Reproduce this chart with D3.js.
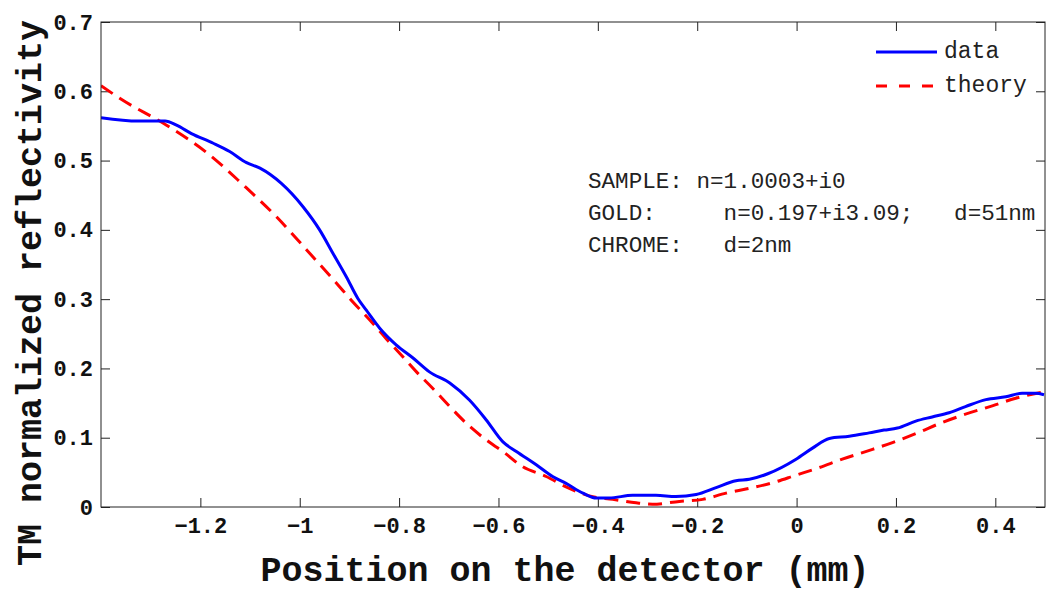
<!DOCTYPE html>
<html>
<head>
<meta charset="utf-8">
<script src="https://cdn.jsdelivr.net/npm/d3@7"></script>
<style>
  html, body { margin: 0; padding: 0; background: #fff; }
  svg { display: block; }
</style>
</head>
<body>
<svg id="chart" width="1046" height="592"></svg>
<script>
// Measured TM reflectivity across the detector (position in mm)
const dataX = [-1.400, -1.325, -1.271, -1.248, -1.218, -1.174, -1.141, -1.107, -1.080, -1.037,
  -0.993, -0.960, -0.933, -0.906, -0.883, -0.866, -0.839, -0.806, -0.772, -0.739,
  -0.698, -0.658, -0.625, -0.591, -0.564, -0.524, -0.491, -0.464, -0.430, -0.403,
  -0.377, -0.330, -0.283, -0.243, -0.202, -0.162, -0.122, -0.095, -0.058, -0.001,
  0.032, 0.066, 0.106, 0.146, 0.176, 0.203, 0.240, 0.273, 0.307, 0.340,
  0.381, 0.421, 0.454, 0.481, 0.498];
const dataY = [0.562, 0.557, 0.557, 0.551, 0.539, 0.525, 0.513, 0.497, 0.489, 0.467,
  0.433, 0.400, 0.366, 0.332, 0.301, 0.284, 0.258, 0.234, 0.215, 0.195,
  0.179, 0.154, 0.126, 0.094, 0.080, 0.061, 0.044, 0.034, 0.020, 0.013,
  0.013, 0.017, 0.017, 0.015, 0.018, 0.028, 0.038, 0.040, 0.048, 0.069,
  0.085, 0.099, 0.102, 0.107, 0.111, 0.114, 0.124, 0.130, 0.136, 0.145,
  0.155, 0.159, 0.164, 0.164, 0.162];

// Computed reflectivity for the layered sample
const theoryX = [-1.400, -1.356, -1.268, -1.181, -1.114, -1.047, -0.986, -0.926, -0.893, -0.859,
  -0.826, -0.799, -0.765, -0.732, -0.698, -0.665, -0.625, -0.591, -0.551, -0.504,
  -0.464, -0.417, -0.370, -0.323, -0.290, -0.236, -0.189, -0.142, -0.102, -0.048,
  -0.001, 0.046, 0.092, 0.139, 0.193, 0.240, 0.293, 0.340, 0.394, 0.441, 0.498];
const theoryY = [0.608, 0.587, 0.551, 0.508, 0.465, 0.419, 0.371, 0.323, 0.296, 0.270,
  0.243, 0.222, 0.195, 0.171, 0.145, 0.121, 0.097, 0.080, 0.058, 0.044,
  0.029, 0.016, 0.011, 0.006, 0.004, 0.008, 0.011, 0.020, 0.026, 0.035,
  0.046, 0.057, 0.069, 0.080, 0.093, 0.106, 0.122, 0.134, 0.146, 0.157, 0.166];

const xTicks = [-1.2, -1, -0.8, -0.6, -0.4, -0.2, 0, 0.2, 0.4];
const yTicks = [0, 0.1, 0.2, 0.3, 0.4, 0.5, 0.6, 0.7];
const seriesNames = ["data", "theory"];
const annotationLines = [
  "SAMPLE: n=1.0003+i0",
  "GOLD:     n=0.197+i3.09;   d=51nm",
  "CHROME:   d=2nm"
];

const svg = d3.select("#chart");
const margin = { left: 101, right: 1045, top: 22, bottom: 507 };

const x = d3.scaleLinear().domain([-1.4, 0.5]).range([margin.left, margin.right]);
const y = d3.scaleLinear().domain([0, 0.7]).range([margin.bottom, margin.top]);

const mono = "'Liberation Mono', 'Courier New', monospace";
const fmt = d => d3.format("~g")(d).replace("-", "\u2212");

svg.append("defs").append("clipPath").attr("id", "plotClip")
  .append("rect")
  .attr("x", margin.left).attr("y", margin.top)
  .attr("width", margin.right - margin.left)
  .attr("height", margin.bottom - margin.top);

// Axes with inward ticks on all four sides
const tickLen = 9;
const axisColor = "#222";

const bottomAxis = d3.axisBottom(x).tickValues(xTicks).tickSizeInner(-tickLen).tickSizeOuter(0).tickPadding(10).tickFormat(fmt);
const topAxis = d3.axisTop(x).tickValues(xTicks).tickSizeInner(-tickLen).tickSizeOuter(0).tickFormat("");
const leftAxis = d3.axisLeft(y).tickValues(yTicks).tickSizeInner(-tickLen).tickSizeOuter(0).tickPadding(8).tickFormat(fmt);
const rightAxis = d3.axisRight(y).tickValues(yTicks).tickSizeInner(-tickLen).tickSizeOuter(0).tickFormat("");

function styleAxis(g) {
  g.select(".domain").remove();
  g.selectAll("line").attr("stroke", axisColor).attr("stroke-width", 1);
  g.selectAll("text")
    .attr("fill", "#111")
    .style("font-family", mono)
    .style("font-weight", "bold")
    .style("font-size", "22px");
}

svg.append("g").attr("transform", `translate(0,${margin.bottom})`).call(bottomAxis).call(styleAxis);
svg.append("g").attr("transform", `translate(0,${margin.top})`).call(topAxis).call(styleAxis);
svg.append("g").attr("transform", `translate(${margin.left},0)`).call(leftAxis).call(styleAxis);
svg.append("g").attr("transform", `translate(${margin.right},0)`).call(rightAxis).call(styleAxis);

// Curves
const line = d3.line().x(d => x(d[0])).y(d => y(d[1])).curve(d3.curveMonotoneX);
const plot = svg.append("g").attr("clip-path", "url(#plotClip)");

plot.append("path")
  .datum(d3.zip(theoryX, theoryY))
  .attr("d", line)
  .attr("fill", "none")
  .attr("stroke", "#ff0000")
  .attr("stroke-width", 3)
  .attr("stroke-dasharray", "14,8");

plot.append("path")
  .datum(d3.zip(dataX, dataY))
  .attr("d", line)
  .attr("fill", "none")
  .attr("stroke", "#0000ff")
  .attr("stroke-width", 3);

// Plot frame
svg.append("rect")
  .attr("x", margin.left).attr("y", margin.top)
  .attr("width", margin.right - margin.left)
  .attr("height", margin.bottom - margin.top)
  .attr("fill", "none")
  .attr("stroke", axisColor)
  .attr("stroke-width", 1);

// Legend
const legendStyles = [
  { color: "#0000ff", dash: null },
  { color: "#ff0000", dash: "11,12" }
];
const legend = svg.append("g");
seriesNames.forEach((name, i) => {
  const ly = 52 + i * 34;
  legend.append("line")
    .attr("x1", 876).attr("x2", 937)
    .attr("y1", ly).attr("y2", ly)
    .attr("stroke", legendStyles[i].color)
    .attr("stroke-width", 3)
    .attr("stroke-dasharray", legendStyles[i].dash);
  legend.append("text")
    .attr("x", 944).attr("y", ly + 6)
    .style("font-family", mono)
    .style("font-size", "23px")
    .attr("fill", "#222")
    .text(name);
});

// Sample parameters
const note = svg.append("g");
annotationLines.forEach((t, i) => {
  note.append("text")
    .attr("x", 588).attr("y", 188 + i * 32)
    .attr("xml:space", "preserve")
    .style("white-space", "pre")
    .style("font-family", mono)
    .style("font-size", "22.6px")
    .attr("fill", "#222")
    .text(t);
});

// Axis titles
svg.append("text")
  .attr("x", 565).attr("y", 581)
  .attr("text-anchor", "middle")
  .style("font-family", mono)
  .style("font-weight", "bold")
  .style("font-size", "35px")
  .attr("fill", "#111")
  .text("Position on the detector (mm)");

svg.append("text")
  .attr("transform", "translate(41,293) rotate(-90)")
  .attr("text-anchor", "middle")
  .style("font-family", mono)
  .style("font-weight", "bold")
  .style("font-size", "35px")
  .attr("fill", "#111")
  .text("TM normalized reflectivity");
</script>
</body>
</html>
